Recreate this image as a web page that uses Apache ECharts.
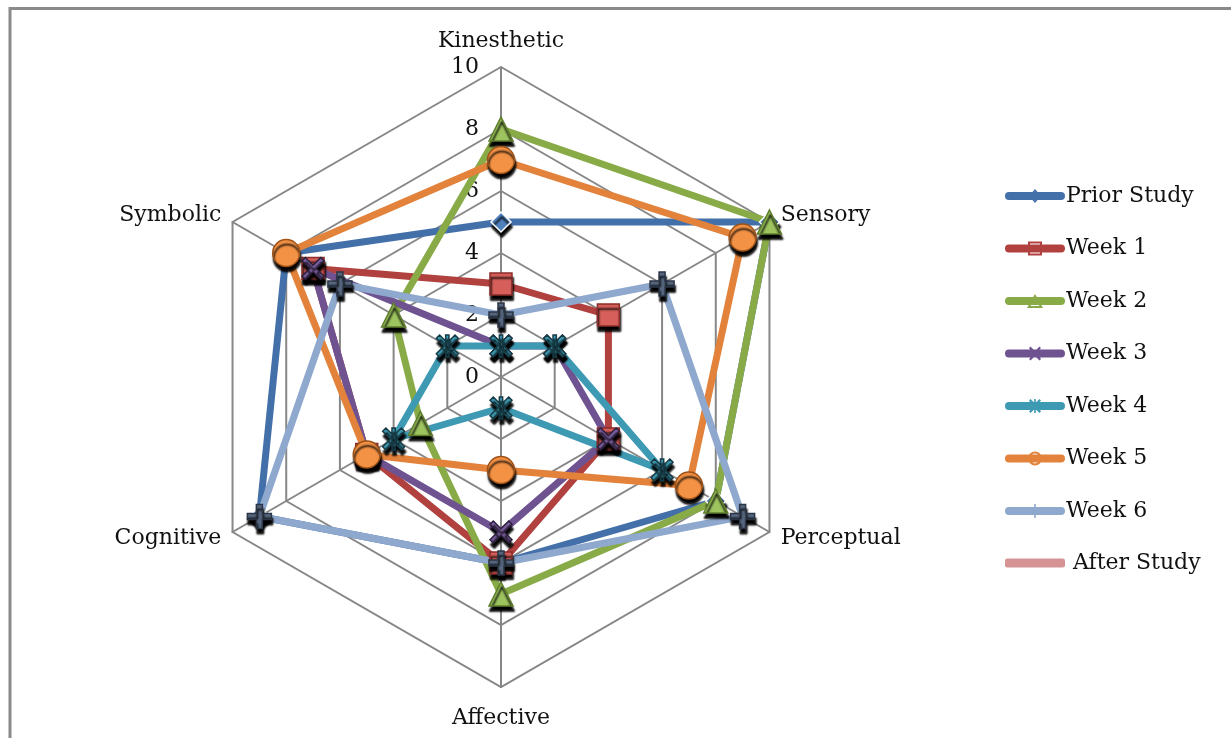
<!DOCTYPE html>
<html>
<head>
<meta charset="utf-8">
<script src="https://cdn.jsdelivr.net/npm/echarts@6/dist/echarts.min.js"></script>
<style>
  html, body { margin: 0; padding: 0; background: #ffffff; }
  #chart { width: 1231px; height: 738px; }
</style>
</head>
<body>
<div id="chart"></div>
<script>
// Learning-style dimensions, listed clockwise from the top
const dimensions = ['Kinesthetic', 'Sensory', 'Perceptual', 'Affective', 'Cognitive', 'Symbolic'];
const scaleMin = 0;
const scaleMax = 10;
const scaleSteps = 5;

// Scores per dimension (same order as dimensions)
const priorStudy = [5, 10, 8, 6, 9, 8];
const week1      = [3, 4, 4, 6, 5, 7];
const week2      = [8, 10, 8, 7, 3, 4];
const week3      = [1, 2, 4, 5, 5, 7];
const week4      = [1, 2, 6, 1, 4, 2];
const week5      = [7, 9, 7, 3, 5, 8];
const week6      = [2, 6, 9, 6, 9, 6];
const afterStudy = [];

const groupNames = ['Prior Study', 'Week 1', 'Week 2', 'Week 3', 'Week 4', 'Week 5', 'Week 6', 'After Study'];
const groupValues = [priorStudy, week1, week2, week3, week4, week5, week6, afterStudy];

// ECharts lays radar indicators out counter-clockwise, so feed them in reverse after the first
const drawOrder = [0, 5, 4, 3, 2, 1];
const reorder = arr => arr.length ? drawOrder.map(i => arr[i]) : [];

const FONT = 'DejaVu Serif';
const TEXT = '#111111';

// marker shapes
const X_PATH = 'path://M0 3L3 0L10 7L17 0L20 3L13 10L20 17L17 20L10 13L3 20L0 17L7 10Z';
const STAR_PATH = 'path://M0 3L3 0L10 7L17 0L20 3L13 10L20 17L17 20L10 13L3 20L0 17L7 10Z M8.5 0H11.5V20H8.5Z';
const PLUS_PATH = 'path://M7.5 0H12.5V7.5H20V12.5H12.5V20H7.5V12.5H0V7.5H7.5Z';

// legend icons: a rounded bar with a small marker on it
const BAR = 'M4 3H56A4 4 0 0 1 56 11H4A4 4 0 0 1 4 3Z';
const legendIcons = [
  'path://' + BAR + ' M30 0L36 7L30 14L24 7Z M30 2.5L26.5 7L30 11.5L33.5 7Z',
  'path://' + BAR + ' M23 0H37V14H23Z M25 2V12H35V2Z',
  'path://' + BAR + ' M30 0L38 14H22Z M30 4.5L25.5 12H34.5Z',
  'path://' + BAR + ' M24 1.5L25.5 0L30 4.5L34.5 0L36 1.5L31.5 6L36 12.5L34.5 14L30 9.5L25.5 14L24 12.5L28.5 8Z',
  'path://' + BAR + ' M24 1.5L25.5 0L30 4.5L34.5 0L36 1.5L31.5 6L36 12.5L34.5 14L30 9.5L25.5 14L24 12.5L28.5 8Z M29.2 0H30.8V14H29.2Z',
  'path://' + BAR + ' M23 7A7 7 0 1 1 37 7A7 7 0 1 1 23 7Z M25 7A5 5 0 1 0 35 7A5 5 0 1 0 25 7Z',
  'path://' + BAR + ' M29.2 0H30.8V14H29.2Z'
];

const looks = [
  { line: '#4470A9', fill: '#4F81BD', border: '#FFFFFF', symbol: 'diamond', size: 20 },
  { line: '#B1413F', fill: '#D65F5B', border: '#8B2D2A', symbol: 'rect',    size: 22 },
  { line: '#88AB48', fill: '#9DC45E', border: '#5E7D2C', symbol: 'triangle', size: 24 },
  { line: '#6F5391', fill: '#7D60A0', border: '#2B1F3C', symbol: X_PATH,    size: 22 },
  { line: '#3E99B3', fill: '#3F9DB6', border: '#163A44', symbol: STAR_PATH, size: 22 },
  { line: '#E3823A', fill: '#F39245', border: '#9D5218', symbol: 'circle',  size: 27 },
  { line: '#8FA8CD', fill: '#56677F', border: '#2B3545', symbol: PLUS_PATH, size: 24 },
  { line: '#D69393', fill: '#D69393', border: '#D69393', symbol: 'none',    size: 0 }
];

const nameKey = { Kinesthetic: 'up', Affective: 'down' };

const series = groupNames.map((name, i) => ({
  type: 'radar',
  name: name,
  symbol: looks[i].symbol,
  symbolSize: looks[i].size,
  lineStyle: { color: looks[i].line, width: 7, opacity: 1 },
  itemStyle: {
    color: looks[i].fill,
    borderColor: looks[i].border,
    borderWidth: 1.5,
    shadowColor: 'rgba(0,0,0,1)',
    shadowBlur: 2,
    shadowOffsetX: 1,
    shadowOffsetY: 5
  },
  data: [{ name: name, value: reorder(groupValues[i]) }]
}));

const legendItemStyle = color => ({ color: color, borderWidth: 0, shadowBlur: 0, shadowOffsetX: 0, shadowOffsetY: 0 });

const chart = echarts.init(document.getElementById('chart'), null, { renderer: 'canvas' });
chart.setOption({
  animation: false,
  backgroundColor: '#ffffff',
  graphic: [{
    type: 'rect',
    silent: true,
    z: -10,
    shape: { x: 10, y: 8.5, width: 1400, height: 900 },
    style: { fill: 'none', stroke: '#8a8a8a', lineWidth: 3 }
  }],
  legend: [{
    orient: 'vertical',
    left: 1000,
    top: 180,
    itemWidth: 60,
    itemHeight: 14,
    itemGap: 30.5,
    selectedMode: false,
    textStyle: { fontFamily: FONT, fontSize: 22, color: TEXT, padding: [0, 0, 0, -4] },
    data: groupNames.slice(0, 7).map((n, i) => ({ name: n, icon: legendIcons[i], itemStyle: legendItemStyle(looks[i].line) }))
  }, {
    orient: 'vertical',
    left: 1000,
    top: 547,
    itemWidth: 60,
    itemHeight: 9,
    selectedMode: false,
    formatter: n => ' ' + n,
    textStyle: { fontFamily: FONT, fontSize: 22, color: TEXT, padding: [0, 0, 0, -4] },
    data: [{ name: groupNames[7], icon: 'roundRect', itemStyle: legendItemStyle(looks[7].line) }]
  }],
  radar: {
    center: [501, 377],
    radius: 310,
    startAngle: 90,
    shape: 'polygon',
    splitNumber: scaleSteps,
    nameGap: 13,
    indicator: drawOrder.map((d, k) => {
      const ind = { name: dimensions[d], min: scaleMin, max: scaleMax };
      if (k === 0) ind.axisLabel = { show: true };
      return ind;
    }),
    axisName: {
      color: TEXT,
      fontFamily: FONT,
      fontSize: 22,
      verticalAlign: 'middle',
      formatter: n => '{' + (nameKey[n] || 'side') + '|' + n + '}',
      rich: {
        up:   { fontFamily: FONT, fontSize: 22, color: TEXT, padding: [0, 0, 26, 0] },
        down: { fontFamily: FONT, fontSize: 22, color: TEXT, padding: [36, 0, 0, 0] },
        side: { fontFamily: FONT, fontSize: 22, color: TEXT }
      }
    },
    axisLine: { show: true, lineStyle: { color: '#878787', width: 2 } },
    splitLine: { show: true, lineStyle: { color: '#878787', width: 2 } },
    splitArea: { show: false },
    axisTick: { show: false },
    axisLabel: { show: false, fontFamily: FONT, fontSize: 22, color: TEXT, margin: 22 }
  },
  series: series
});
</script>
</body>
</html>
